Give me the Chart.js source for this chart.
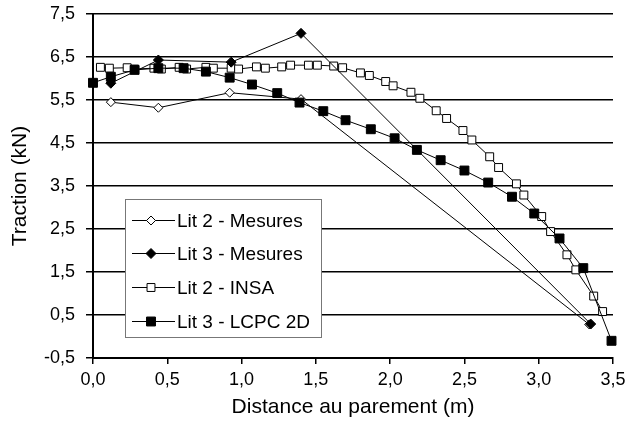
<!DOCTYPE html>
<html>
<head>
<meta charset="utf-8">
<script src="https://cdn.jsdelivr.net/npm/chart.js@4/dist/chart.umd.min.js"></script>
<style>
  html, body { margin: 0; padding: 0; background: #fff; }
  #wrap { width: 625px; height: 421px; }
</style>
</head>
<body>
<div id="wrap"><canvas id="chart" width="625" height="421"></canvas></div>
<script>
// values
const lit2MesuresX = [0.12, 0.44, 0.92, 1.40, 3.34];
const lit2MesuresY = [5.45, 5.32, 5.67, 5.52, 0.28];

const lit3MesuresX = [0.12, 0.44, 0.93, 1.40, 3.35];
const lit3MesuresY = [5.89, 6.43, 6.38, 7.05, 0.29];

const lit2InsaX = [0.05, 0.11, 0.23, 0.28, 0.41, 0.46, 0.58, 0.63, 0.76, 0.81,
  0.93, 0.98, 1.10, 1.16, 1.27, 1.33, 1.45, 1.51, 1.62, 1.68,
  1.80, 1.86, 1.97, 2.02, 2.14, 2.20, 2.31, 2.38, 2.49, 2.55,
  2.67, 2.73, 2.85, 2.90, 3.02, 3.08, 3.19, 3.25, 3.37, 3.43];
const lit2InsaY = [6.26, 6.24, 6.25, 6.22, 6.24, 6.22, 6.26, 6.22, 6.26, 6.24,
  6.24, 6.22, 6.27, 6.24, 6.27, 6.31, 6.31, 6.31, 6.29, 6.25,
  6.13, 6.07, 5.93, 5.83, 5.68, 5.54, 5.25, 5.07, 4.79, 4.57,
  4.18, 3.93, 3.55, 3.29, 2.79, 2.44, 1.90, 1.55, 0.94, 0.58];

const lit3LcpcX = [0.00, 0.12, 0.28, 0.44, 0.61, 0.76, 0.92, 1.07, 1.24, 1.39,
  1.55, 1.70, 1.87, 2.03, 2.18, 2.34, 2.50, 2.66, 2.82, 2.97, 3.14, 3.30, 3.49];
const lit3LcpcY = [5.90, 6.04, 6.20, 6.24, 6.24, 6.16, 6.02, 5.86, 5.66, 5.44,
  5.24, 5.03, 4.82, 4.61, 4.34, 4.10, 3.86, 3.58, 3.25, 2.86, 2.28, 1.59, -0.10];

const seriesNames = ['Lit 2 - Mesures', 'Lit 3 - Mesures', 'Lit 2 - INSA', 'Lit 3 - LCPC 2D'];
const xTickValues = [0, 0.5, 1, 1.5, 2, 2.5, 3, 3.5];
const yTickValues = [-0.5, 0.5, 1.5, 2.5, 3.5, 4.5, 5.5, 6.5, 7.5];
const xTitle = 'Distance au parement (m)';
const yTitle = 'Traction (kN)';

const toPoints = (xs, ys) => xs.map((x, i) => ({ x, y: ys[i] }));
const fmt = v => Number(v).toFixed(1).replace('.', ',');

Chart.defaults.font.family = '"Liberation Sans", Arial, sans-serif';
Chart.defaults.color = '#000';

function drawMarker(ctx, style, x, y, r, filled) {
  ctx.beginPath();
  if (style === 'rectRot') {
    ctx.moveTo(x, y - r); ctx.lineTo(x + r, y); ctx.lineTo(x, y + r); ctx.lineTo(x - r, y);
  } else {
    const s = r * Math.SQRT1_2;
    ctx.rect(x - s, y - s, 2 * s, 2 * s);
  }
  ctx.closePath();
  ctx.fillStyle = filled ? '#000' : '#fff';
  ctx.fill();
  ctx.strokeStyle = '#000';
  ctx.lineWidth = 1;
  ctx.stroke();
}

const boxLegend = {
  id: 'boxLegend',
  afterDatasetsDraw(chart) {
    const { ctx, chartArea } = chart;
    const x0 = chartArea.left + 32, y0 = chartArea.top + 185, w = 196, h = 138;
    ctx.save();
    ctx.fillStyle = '#fff';
    ctx.fillRect(x0, y0, w, h);
    ctx.strokeStyle = '#777';
    ctx.lineWidth = 1;
    ctx.strokeRect(x0 + 0.5, y0 + 0.5, w, h);
    chart.data.datasets.forEach((ds, i) => {
      const cy = Math.round(y0 + 20.5 + i * 33.8) + 0.5;
      ctx.beginPath();
      ctx.moveTo(x0 + 7, cy);
      ctx.lineTo(x0 + 50, cy);
      ctx.strokeStyle = '#000';
      ctx.lineWidth = 1;
      ctx.stroke();
      drawMarker(ctx, ds.pointStyle, x0 + 26, cy, ds.pointRadius, ds.pointBackgroundColor === '#000');
      ctx.fillStyle = '#000';
      ctx.font = '19px "Liberation Sans", Arial, sans-serif';
      ctx.textBaseline = 'middle';
      ctx.textAlign = 'left';
      ctx.fillText(ds.label, x0 + 52, cy + 1);
    });
    ctx.restore();
  }
};

const common = {
  borderColor: '#000',
  borderWidth: 1,
  pointBorderColor: '#000',
  pointBorderWidth: 1,
  showLine: true,
  tension: 0,
  clip: false,
};

// drop the label-driven padding so the plot area sits where the reference has it
const noPad = s => { s.paddingTop = 0; s.paddingBottom = 0; s.paddingLeft = 0; s.paddingRight = 0; };

new Chart(document.getElementById('chart').getContext('2d'), {
  type: 'line',
  data: {
    datasets: [
      { ...common, label: seriesNames[0], data: toPoints(lit2MesuresX, lit2MesuresY),
        pointStyle: 'rectRot', pointRadius: 4.5, pointBackgroundColor: '#fff', order: 2 },
      { ...common, label: seriesNames[1], data: toPoints(lit3MesuresX, lit3MesuresY),
        pointStyle: 'rectRot', pointRadius: 5, pointBackgroundColor: '#000', order: 0 },
      { ...common, label: seriesNames[2], data: toPoints(lit2InsaX, lit2InsaY),
        pointStyle: 'rect', pointRadius: 5.6, pointBackgroundColor: '#fff', order: 3 },
      { ...common, label: seriesNames[3], data: toPoints(lit3LcpcX, lit3LcpcY),
        pointStyle: 'rect', pointRadius: 6.3, pointBackgroundColor: '#000', order: 1 },
    ],
  },
  options: {
    responsive: false,
    animation: false,
    layout: { padding: { left: 0, right: 12, top: 14, bottom: 0 } },
    plugins: { legend: { display: false }, tooltip: { enabled: false } },
    scales: {
      x: {
        type: 'linear',
        min: 0,
        max: 3.5,
        afterBuildTicks: s => { s.ticks = xTickValues.map(v => ({ value: v })); },
        afterFit: s => { s.height = 63; noPad(s); },
        grid: { drawOnChartArea: false, drawTicks: true, tickLength: 6, color: '#000', lineWidth: 1.5 },
        border: { display: true, color: '#000', width: 2 },
        ticks: { font: { size: 18 }, padding: 5, maxRotation: 0, callback: fmt },
        title: { display: true, text: xTitle, font: { size: 21 }, padding: { top: 0, bottom: 1 } },
      },
      y: {
        min: -0.5,
        max: 7.5,
        afterBuildTicks: s => { s.ticks = yTickValues.map(v => ({ value: v })); },
        afterFit: s => { s.width = 93; noPad(s); },
        grid: { color: '#000', lineWidth: 1.5, drawTicks: true, tickLength: 7 },
        border: { display: true, color: '#000', width: 2 },
        ticks: { font: { size: 18 }, padding: 11, callback: fmt },
        title: { display: true, text: yTitle, font: { size: 21 }, padding: { top: 8, bottom: 0 } },
      },
    },
  },
  plugins: [boxLegend],
});
</script>
</body>
</html>
